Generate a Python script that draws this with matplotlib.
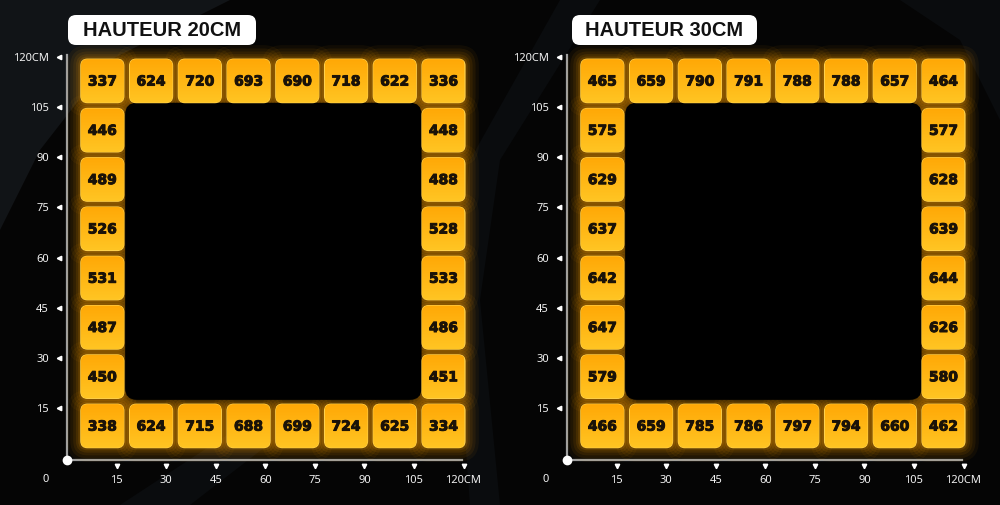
import numpy as np
import matplotlib
matplotlib.use("Agg")
import matplotlib.pyplot as plt
from matplotlib.patches import FancyBboxPatch, Polygon
from matplotlib.colors import LinearSegmentedColormap
import matplotlib.patheffects as pe

# ---------------- data ----------------
titles = ["HAUTEUR 20CM", "HAUTEUR 30CM"]
tick_values = [15, 30, 45, 60, 75, 90, 105, 120]
tick_labels = ["15", "30", "45", "60", "75", "90", "105", "120CM"]

top_20 = [337, 624, 720, 693, 690, 718, 622, 336]
left_20 = [446, 489, 526, 531, 487, 450]      # top -> bottom
right_20 = [448, 488, 528, 533, 486, 451]     # top -> bottom
bottom_20 = [338, 624, 715, 688, 699, 724, 625, 334]

top_30 = [465, 659, 790, 791, 788, 788, 657, 464]
left_30 = [575, 629, 637, 642, 647, 579]
right_30 = [577, 628, 639, 644, 626, 580]
bottom_30 = [466, 659, 785, 786, 797, 794, 660, 462]

panels = [
    (titles[0], top_20, left_20, right_20, bottom_20),
    (titles[1], top_30, left_30, right_30, bottom_30),
]

# ---------------- style ----------------
W, H = 1000, 505
BG = "#050505"
fig = plt.figure(figsize=(W / 100, H / 100), dpi=100, facecolor=BG)

# subtle background streaks
bgax = fig.add_axes([0, 0, 1, 1], zorder=-10)
bgax.set_xlim(0, W); bgax.set_ylim(H, 0); bgax.axis("off")
bgax.add_patch(Polygon([[0, 0], [230, 0], [110, 60], [40, 150], [0, 230]],
                       closed=True, color="#111417", lw=0))
bgax.add_patch(Polygon([[120, 505], [250, 420], [300, 420], [190, 505]],
                       closed=True, color="#0a0c0e", lw=0))
bgax.add_patch(Polygon([[560, 0], [600, 0], [500, 160], [480, 300], [500, 505], [470, 505], [455, 300], [470, 160]],
                       closed=True, color="#0a0c0e", lw=0))
bgax.add_patch(Polygon([[900, 0], [1000, 0], [1000, 120], [960, 40]],
                       closed=True, color="#0a0c0e", lw=0))

tile_cmap = LinearSegmentedColormap.from_list("tile", ["#FFC523", "#FFA806"])
grad = np.linspace(0, 1, 64).reshape(-1, 1)

X0, STEP, TILE = 10.7, 14.75, 13.0
Y0 = 9.6
RAD = 2.0

tick_font = ["Noto Sans", "DejaVu Sans"]
TICK_COLOR = "#f2f2f2"

for p, (title, top, left, right, bottom) in enumerate(panels):
    px_left = 67 + 500 * p
    ax = fig.add_axes([px_left / W, 47 / H, 396.5 / W, 401 / H])
    ax.set_facecolor("none")
    for s in ax.spines.values():
        s.set_visible(False)

    # axis lines
    ax.plot([0, 0], [0, 120.6], color="#a0a0a0", lw=1.6, clip_on=False, zorder=1)
    ax.plot([0, 119.5], [-0.6, -0.6], color="#a0a0a0", lw=1.6, clip_on=False, zorder=1)
    ax.plot([0], [-0.6], "o", color="white", ms=6, clip_on=False, zorder=2)

    # ticks (library ticks, custom triangle markers)
    ax.set_xticks(tick_values)
    ax.set_xticklabels(tick_labels, color=TICK_COLOR, fontsize=8, family=tick_font)
    ax.set_yticks(tick_values)
    ax.set_yticklabels(tick_labels, color=TICK_COLOR, fontsize=8, family=tick_font)
    ax.tick_params(axis="both", length=0)
    ax.tick_params(axis="x", pad=12)
    ax.tick_params(axis="y", pad=13)
    ax.plot(tick_values, [-2.5] * len(tick_values), "v", color="white", ms=3.2,
            clip_on=False, zorder=2)
    ax.plot([-2.4] * len(tick_values), tick_values, "<", color="white", ms=3.2,
            clip_on=False, zorder=2)
    ax.text(-6.6, -6.3, "0", color=TICK_COLOR, fontsize=8, family=tick_font,
            ha="center", va="center", clip_on=False)

    # collect tiles: (col, row, value)
    tiles = []
    for i, v in enumerate(top):
        tiles.append((i, 7, v))
    for k, v in enumerate(left):
        tiles.append((0, 6 - k, v))
    for k, v in enumerate(right):
        tiles.append((7, 6 - k, v))
    for i, v in enumerate(bottom):
        tiles.append((i, 0, v))

    # glow
    for (c, r, v) in tiles:
        cx = X0 + c * STEP
        cy = Y0 + r * STEP
        for extra, a in [(4.2, 0.05), (3.2, 0.07), (2.3, 0.08), (1.5, 0.10), (0.8, 0.14)]:
            g = FancyBboxPatch((cx - TILE / 2 + RAD, cy - TILE / 2 + RAD),
                               TILE - 2 * RAD, TILE - 2 * RAD,
                               boxstyle=f"round,pad={RAD + extra}", fc="#FFA000", ec="none",
                               alpha=a, zorder=3, clip_on=False)
            ax.add_patch(g)

    # inner black area
    ax.add_patch(FancyBboxPatch((17.6 + 3.5, 17.4 + 3.5), 89.7 - 7, 88.9 - 7,
                                boxstyle="round,pad=3.5", fc="#000000", ec="none",
                                zorder=4))

    # tiles
    for (c, r, v) in tiles:
        cx = X0 + c * STEP
        cy = Y0 + r * STEP
        patch = FancyBboxPatch((cx - TILE / 2 + RAD, cy - TILE / 2 + RAD),
                               TILE - 2 * RAD, TILE - 2 * RAD,
                               boxstyle=f"round,pad={RAD}", fc="#FFB50F",
                               ec="#FFD04A", lw=0.9, zorder=5, clip_on=False)
        ax.add_patch(patch)
        im = ax.imshow(grad, extent=[cx - TILE / 2, cx + TILE / 2, cy - TILE / 2, cy + TILE / 2],
                       cmap=tile_cmap, aspect="auto", origin="lower", zorder=5.5,
                       interpolation="bilinear")
        im.set_clip_path(patch)
        ax.text(cx, cy - 0.2, str(v), ha="center", va="center", fontsize=10,
                fontweight="bold", color="#1a1208", family="DejaVu Sans", zorder=7,
                path_effects=[pe.withStroke(linewidth=0.7, foreground="#1a1208")])

    ax.set_xlim(0, 120)
    ax.set_ylim(0, 120)

    # title box (inch space)
    bx0 = (68 + 504 * p) / 100
    bw = 1.88 if p == 0 else 1.85
    box = FancyBboxPatch((bx0 + 0.08, (H - 45) / 100 + 0.08), bw - 0.16, 0.30 - 0.16,
                         boxstyle="round,pad=0.08", fc="white", ec="none",
                         transform=fig.dpi_scale_trans, zorder=20)
    fig.add_artist(box)
    fig.text(bx0 + bw / 2, (H - 30) / 100, title, transform=fig.dpi_scale_trans,
             ha="center", va="center", fontsize=14.5, fontweight="bold", color="#111111",
             family=["Liberation Sans Narrow", "Liberation Sans", "DejaVu Sans"],
             zorder=21)

fig.savefig("out.png", dpi=100, facecolor=BG)
